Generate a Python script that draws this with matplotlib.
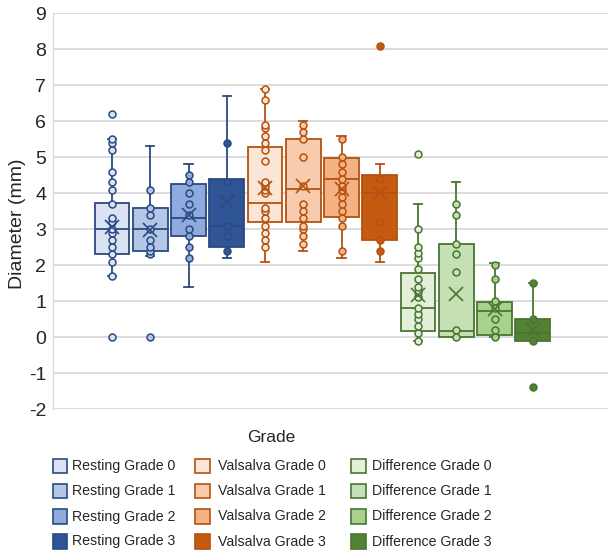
import matplotlib
matplotlib.use('Agg')
import matplotlib.pyplot as plt
from matplotlib import font_manager
from matplotlib.patches import Rectangle
import numpy as np

# ---------------- data ----------------
labels = ["Resting Grade 0", "Resting Grade 1", "Resting Grade 2", "Resting Grade 3",
          "Valsalva Grade 0", "Valsalva Grade 1", "Valsalva Grade 2", "Valsalva Grade 3",
          "Difference Grade 0", "Difference Grade 1", "Difference Grade 2", "Difference Grade 3"]

resting_g0 = [0, 1.7, 2.1, 2.3, 2.5, 2.7, 2.9, 3.0, 3.2, 3.3, 3.7, 4.1, 4.3, 4.6, 5.2, 5.4, 5.5, 6.2]
resting_g1 = [0, 2.3, 2.4, 2.5, 2.7, 3.0, 3.4, 3.6, 4.1]
resting_g2 = [2.2, 2.5, 2.8, 3.0, 3.4, 3.7, 4.0, 4.3, 4.5]
resting_g3 = [2.4, 2.8, 3.1, 4.3, 5.4]
valsalva_g0 = [2.5, 2.7, 2.9, 3.1, 3.3, 3.5, 3.6, 4.0, 4.1, 4.2, 4.3, 4.9, 5.2, 5.4, 5.6, 5.8, 5.9, 6.6, 6.9]
valsalva_g1 = [2.6, 2.8, 3.0, 3.1, 3.3, 3.5, 3.7, 4.2, 5.0, 5.5, 5.7, 5.9]
valsalva_g2 = [2.4, 3.1, 3.3, 3.5, 3.7, 3.9, 4.1, 4.2, 4.4, 4.6, 4.8, 5.0, 5.5]
valsalva_g3 = [2.4, 2.7, 3.2, 4.4, 8.1]
difference_g0 = [-0.1, 0.1, 0.3, 0.5, 0.65, 0.8, 1.1, 1.25, 1.4, 1.6, 1.9, 2.2, 2.35, 2.5, 3.0, 5.1]
difference_g1 = [0.0, 0.2, 1.8, 2.3, 2.6, 3.4, 3.7]
difference_g2 = [0.0, 0.2, 0.5, 0.8, 1.0, 1.6, 2.0]
difference_g3 = [-1.4, -0.1, 0.5, 1.5]

points = [resting_g0, resting_g1, resting_g2, resting_g3,
          valsalva_g0, valsalva_g1, valsalva_g2, valsalva_g3,
          difference_g0, difference_g1, difference_g2, difference_g3]

q1 = [2.3, 2.4, 2.8, 2.49, 3.21, 3.19, 3.33, 2.7, 0.17, 0.0, 0.05, -0.1]
medians = [3.0, 3.0, 3.3, 3.1, 3.72, 4.12, 4.4, 4.0, 0.81, 0.18, 0.72, 0.1]
q3 = [3.72, 3.6, 4.25, 4.4, 5.28, 5.5, 4.98, 4.51, 1.77, 2.59, 0.98, 0.49]
whislo = [1.7, 2.25, 1.4, 2.2, 2.1, 2.4, 2.2, 2.1, -0.1, 0.0, 0.0, -0.1]
whishi = [5.5, 5.3, 4.8, 6.7, 6.9, 6.0, 5.58, 4.8, 3.7, 4.3, 2.07, 1.5]
means = [3.05, 2.97, 3.4, 3.75, 4.14, 4.21, 4.12, 4.0, 1.17, 1.21, 0.77, 0.2]
yticks = [-2, -1, 0, 1, 2, 3, 4, 5, 6, 7, 8, 9]

# ---------------- style ----------------
fills = ['#dae3f3', '#b4c7e7', '#8faadc', '#2f5597',
         '#fbe5d6', '#f8cbad', '#f4b183', '#c55a11',
         '#e2f0d9', '#c5e0b4', '#a9d18e', '#548235']
edges = ['#2a4a80'] * 4 + ['#b4520f'] * 4 + ['#4a7530'] * 4

plt.rcParams['font.family'] = ['Liberation Sans', 'DejaVu Sans']
plt.rcParams['axes.unicode_minus'] = False

names = {f.name for f in font_manager.fontManager.ttflist}
if 'Liberation Sans Narrow' in names:
    leg_font = ['Liberation Sans Narrow', 'DejaVu Sans']
    leg_size = 12.0
else:
    leg_font = ['Liberation Sans', 'DejaVu Sans']
    leg_size = 10.2

W, H = 608, 552
fig = plt.figure(figsize=(W / 100, H / 100), dpi=100)
ax = fig.add_axes([53 / W, (H - 409) / H, 555 / W, (409 - 13.3) / H])

pos = np.arange(len(labels))
step = 38.25
ax.set_xlim((53 - 112) / step, (608 - 112) / step)
ax.set_ylim(-2, 9)

for i in range(len(labels)):
    st = dict(med=medians[i], q1=q1[i], q3=q3[i], whislo=whislo[i], whishi=whishi[i], fliers=[])
    ax.bxp([st], positions=[pos[i]], widths=0.91, patch_artist=True, showfliers=False,
           boxprops=dict(facecolor=fills[i], edgecolor=edges[i], linewidth=1.3),
           whiskerprops=dict(color=edges[i], linewidth=1.3),
           capprops=dict(color=edges[i], linewidth=1.3),
           medianprops=dict(color=edges[i], linewidth=1.3),
           capwidths=0.22, zorder=3)
    ax.plot([pos[i]] * len(points[i]), points[i], 'o', ms=5, mfc=fills[i], mec=edges[i],
            mew=1.1, zorder=4, clip_on=False)
    ax.plot([pos[i]], [means[i]], 'x', ms=9.5, mec=edges[i], mew=1.2, zorder=5)

ax.set_yticks(yticks)
ax.set_xticks([])
ax.yaxis.grid(True, color='#d9d9d9', linewidth=1.3)
ax.set_axisbelow(True)
for s in ['top', 'right', 'bottom']:
    ax.spines[s].set_visible(False)
ax.spines['left'].set_color('#d9d9d9')
ax.spines['left'].set_linewidth(1.0)
ax.tick_params(axis='y', length=0, pad=5, labelsize=14, labelcolor='#262626')

fig.text(18 / W, 1 - 224 / H, 'Diameter (mm)', rotation=90, ha='center', va='center',
         fontsize=14, color='#262626')
fig.text(271.5 / W, 1 - 438 / H, 'Grade', ha='center', va='center', fontsize=12.5,
         color='#262626')

# legend (3 columns x 4 rows)
sq_x = [53, 195, 351]
txt_x = [72, 218, 372]
row_y = [466, 491, 516.5, 541.5]
sq = 14.5
for i, lab in enumerate(labels):
    c, r = i // 4, i % 4
    y = row_y[r]
    fig.add_artist(Rectangle((sq_x[c] / W, 1 - (y + sq / 2) / H), sq / W, sq / H,
                             transform=fig.transFigure, facecolor=fills[i],
                             edgecolor=edges[i], linewidth=1.2))
    fig.text(txt_x[c] / W, 1 - y / H, lab, ha='left', va='center', fontsize=leg_size,
             family=leg_font, color='#262626')

fig.savefig('out.png', dpi=100)
